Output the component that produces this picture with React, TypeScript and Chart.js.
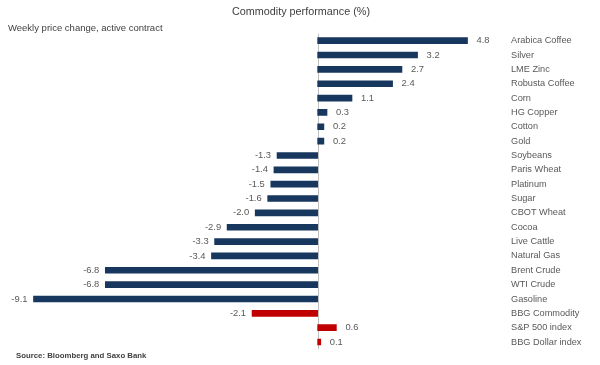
import React, { useEffect, useRef } from "react";
import { Chart, registerables } from "chart.js";

Chart.register(...registerables);

const categories = [
  "Arabica Coffee", "Silver", "LME Zinc", "Robusta Coffee", "Corn", "HG Copper",
  "Cotton", "Gold", "Soybeans", "Paris Wheat", "Platinum", "Sugar", "CBOT Wheat",
  "Cocoa", "Live Cattle", "Natural Gas", "Brent Crude", "WTI Crude", "Gasoline",
  "BBG Commodity", "S&P 500 index", "BBG Dollar index",
];
const values = [
  4.8, 3.2, 2.7, 2.4, 1.1, 0.3, 0.2, 0.2, -1.3, -1.4, -1.5, -1.6, -2.0, -2.9,
  -3.3, -3.4, -6.8, -6.8, -9.1, -2.1, 0.6, 0.1,
];
const benchmarkNames = ["BBG Commodity", "S&P 500 index", "BBG Dollar index"];

const titleText = "Commodity performance (%)";
const subtitleText = "Weekly price change, active contract";
const sourceText = "Source: Bloomberg and Saxo Bank";

const NAVY = "#17375E";
const RED = "#C00000";
const FONT = "'Liberation Sans', Arial, sans-serif";

export default function App() {
  const ref = useRef<HTMLCanvasElement | null>(null);

  useEffect(() => {
    if (!ref.current) return;
    const colors = categories.map((c) => (benchmarkNames.includes(c) ? RED : NAVY));

    const decor = {
      id: "decor",
      beforeDatasetsDraw(chart: any) {
        const { ctx, chartArea, scales } = chart;
        const x0 = Math.round(scales.x.getPixelForValue(0)) + 0.5;
        ctx.save();
        ctx.strokeStyle = "#BFBFBF";
        ctx.lineWidth = 1;
        ctx.beginPath();
        ctx.moveTo(x0, chartArea.top);
        ctx.lineTo(x0, chartArea.bottom);
        ctx.stroke();
        ctx.restore();
      },
      afterDatasetsDraw(chart: any) {
        const { ctx } = chart;
        const meta = chart.getDatasetMeta(0);
        ctx.save();
        ctx.font = `9.4px ${FONT}`;
        ctx.fillStyle = "#595959";
        ctx.textBaseline = "middle";
        meta.data.forEach((bar: any, i: number) => {
          const v = values[i];
          const label = v.toFixed(1);
          if (v >= 0) {
            ctx.textAlign = "left";
            ctx.fillText(label, bar.x + 9, bar.y);
          } else {
            ctx.textAlign = "right";
            ctx.fillText(label, bar.x - 6, bar.y);
          }
        });
        // title, subtitle, source
        ctx.fillStyle = "#404040";
        ctx.textAlign = "center";
        ctx.font = `10.8px ${FONT}`;
        ctx.fillText(titleText, 301, 12);
        ctx.textAlign = "left";
        ctx.font = `9.5px ${FONT}`;
        ctx.fillText(subtitleText, 8, 28);
        ctx.font = `bold 7.8px ${FONT}`;
        ctx.fillText(sourceText, 16, 356);
        ctx.restore();
      },
    };

    const chart = new Chart(ref.current, {
      type: "bar",
      data: {
        labels: categories,
        datasets: [
          {
            data: values,
            backgroundColor: colors,
            borderWidth: 0,
            barThickness: 6,
          },
        ],
      },
      options: {
        indexAxis: "y",
        animation: false,
        responsive: false,
        layout: { padding: { left: 21, right: 0, top: 33.5, bottom: 15.8 } },
        plugins: {
          legend: { display: false },
          tooltip: { enabled: false },
          title: { display: false },
        },
        scales: {
          x: {
            display: false,
            min: -9.5,
            max: 6,
          },
          y: {
            position: "right",
            grid: { display: false, drawTicks: false },
            border: { display: false },
            afterFit(scale: any) {
              scale.width = 95;
            },
            ticks: {
              padding: 6,
              color: "#595959",
              font: { family: FONT, size: 9.2 },
              autoSkip: false,
            },
          },
        },
      },
      plugins: [decor],
    });
    return () => chart.destroy();
  }, []);

  return (
    <div style={{ position: "fixed", left: 0, top: 0, width: 600, height: 365, background: "#fff" }}>
      <canvas ref={ref} width={600} height={365} style={{ display: "block" }} />
    </div>
  );
}
